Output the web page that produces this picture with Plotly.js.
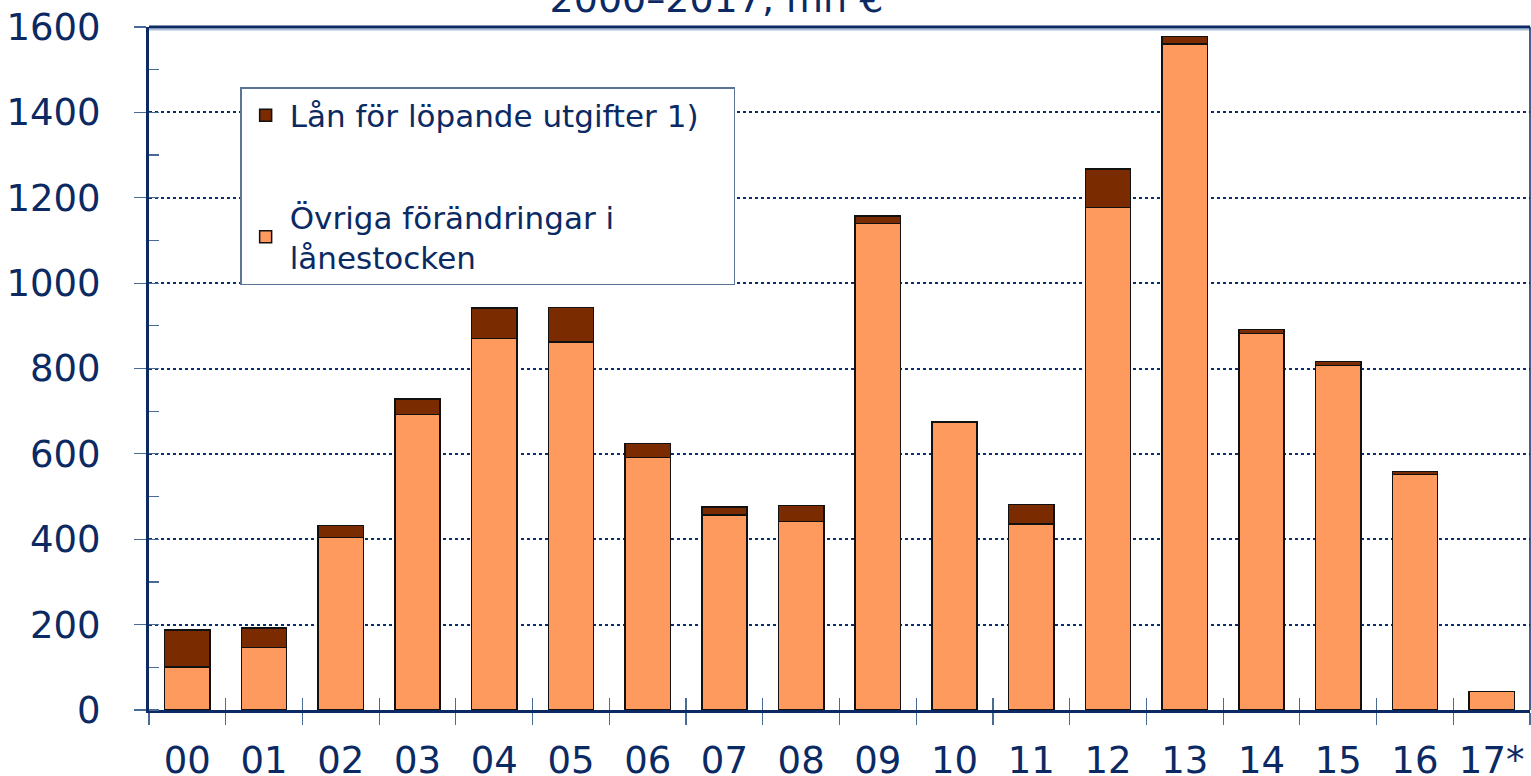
<!DOCTYPE html>
<html>
<head>
<meta charset="utf-8">
<script src="https://cdn.plot.ly/plotly-3.0.1.min.js"></script>
<style>
  html, body { margin: 0; padding: 0; background: #fff; }
  #grafica { width: 1531px; height: 776px; }
</style>
</head>
<body>
<div id="grafica"></div>
<script>
// år (2000-2017), mn €
const ar = ['00', '01', '02', '03', '04', '05', '06', '07', '08', '09',
            '10', '11', '12', '13', '14', '15', '16', '17*'];
const ovrigaForandringar = [101, 147, 404, 692, 870, 862, 591, 457, 442, 1140,
                            674, 436, 1177, 1560, 882, 807, 552, 43];
const lanLopandeUtgifter = [86, 45, 28, 37, 72, 81, 33, 19, 37, 17,
                            2, 46, 90, 18, 9, 9, 7, 0];
const yTicks = [0, 200, 400, 600, 800, 1000, 1200, 1400, 1600];

const navy = '#0b2a63';
const fuente = 'DejaVu Sans, Verdana, sans-serif';

const trazas = [
  {
    x: ar,
    y: ovrigaForandringar,
    type: 'bar',
    name: 'Övriga förändringar i<br>lånestocken',
    legendgroup: 'b',
    legendrank: 2,
    marker: { color: '#ff9a5e', line: { color: '#111', width: 1.5 } },
    hoverinfo: 'x+y'
  },
  {
    x: ar,
    y: lanLopandeUtgifter,
    type: 'bar',
    name: 'Lån för löpande utgifter 1)\u00a0\u00a0\u00a0',
    legendgroup: 'a',
    legendrank: 1,
    marker: { color: '#7a2c00', line: { color: '#111', width: 1.5 } },
    hoverinfo: 'x+y'
  },
  {
    // solo para dibujar las marcas interiores del eje x
    x: ar,
    y: ar.map(() => 0),
    type: 'scatter',
    mode: 'markers',
    xaxis: 'x2',
    marker: { opacity: 0 },
    showlegend: false,
    hoverinfo: 'skip'
  }
];

const layout = {
  width: 1531,
  height: 776,
  margin: { l: 149, r: 1, t: 27, b: 66 },
  paper_bgcolor: '#fff',
  plot_bgcolor: '#fff',
  font: { family: fuente, color: navy },
  barmode: 'stack',
  bargap: 0.41,
  title: {
    text: '2000–2017, mn €',
    font: { size: 38, color: navy, family: fuente },
    xref: 'container',
    x: 0.468,
    xanchor: 'center',
    yref: 'container',
    y: 0.985,
    yanchor: 'bottom'
  },
  xaxis: {
    type: 'category',
    range: [-0.5, ar.length - 0.5],
    tickson: 'boundaries',
    ticks: 'outside',
    ticklen: 12,
    tickwidth: 1.2,
    tickcolor: '#4a6a96',
    tickangle: 0,
    showline: true,
    linecolor: navy,
    linewidth: 3,
    showgrid: false,
    tickfont: { size: 37, color: navy },
    ticklabelstandoff: 16,
    fixedrange: true
  },
  xaxis2: {
    type: 'category',
    overlaying: 'x',
    matches: 'x',
    side: 'bottom',
    tickson: 'boundaries',
    ticks: 'inside',
    ticklen: 12,
    tickwidth: 1.2,
    tickcolor: '#4a6a96',
    showticklabels: false,
    showline: false,
    showgrid: false
  },
  yaxis: {
    range: [0, 1600],
    tickvals: yTicks,
    ticks: 'outside',
    ticklen: 12,
    tickwidth: 1.2,
    tickcolor: '#4a6a96',
    minor: { dtick: 100, ticks: 'inside', ticklen: 10, tickwidth: 1.2, tickcolor: '#4a6a96', showgrid: false },
    showline: true,
    linecolor: navy,
    linewidth: 3,
    showgrid: true,
    gridcolor: '#0a2f6e',
    griddash: 'dot',
    gridwidth: 2,
    zeroline: false,
    tickfont: { size: 37, color: navy },
    ticklabelstandoff: 26,
    fixedrange: true
  },
  legend: {
    x: 0.066,
    y: 0.912,
    xanchor: 'left',
    yanchor: 'top',
    bgcolor: '#fff',
    bordercolor: '#5d7499',
    borderwidth: 1.5,
    font: { size: 31, color: navy, family: fuente },
    traceorder: 'grouped',
    tracegroupgap: 58,
    itemwidth: 38
  },
  shapes: [
    { type: 'line', xref: 'paper', yref: 'paper', x0: 0, x1: 1, y0: 1, y1: 1,
      line: { color: navy, width: 3 } },
    { type: 'line', xref: 'paper', yref: 'paper', x0: 0, x1: 1, y0: 0.996, y1: 0.996,
      line: { color: '#a9bfdc', width: 1.5 } },
    { type: 'line', xref: 'paper', yref: 'paper', x0: 1, x1: 1, y0: 0, y1: 1,
      line: { color: navy, width: 1.5 } }
  ],
  showlegend: true
};

Plotly.newPlot('grafica', trazas, layout, { displayModeBar: false, staticPlot: true });
</script>
</body>
</html>
